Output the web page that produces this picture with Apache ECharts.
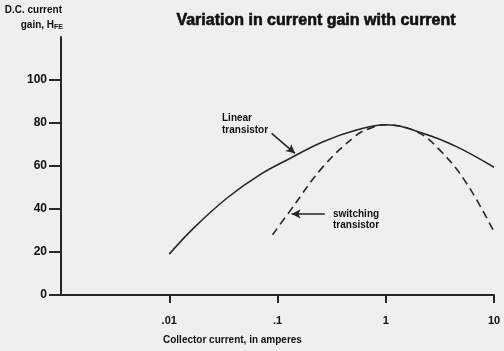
<!DOCTYPE html>
<html><head><meta charset="utf-8">
<script src="https://cdn.jsdelivr.net/npm/echarts@6/dist/echarts.min.js"></script>
<style>html,body{margin:0;padding:0;background:#efefec}#c{width:504px;height:351px}</style>
</head><body><div id="c"></div>
<script>
var xTicks = [0.01, 0.1, 1, 10];
var xTickLabels = ['.01', '.1', '1', '10'];
var yTicks = [0, 20, 40, 60, 80, 100];
var linearX = [0.01, 0.0167, 0.034, 0.069, 0.13, 0.264, 0.537, 1, 2.2, 4.5, 10];
var linearY = [19, 31, 45, 56, 63.5, 71.3, 76.7, 79.2, 75.2, 69, 59.4];
var switchX = [0.09, 0.13, 0.264, 0.537, 0.713, 1, 1.92, 3.16, 5.57, 10];
var switchY = [28, 39, 59.7, 74.4, 77.5, 79.2, 76, 67.4, 52, 29.4];
var linearArrow = [[0.0883, 75.2], [0.145, 65.9]];
var switchArrow = [[0.274, 37.7], [0.135, 37.7]];

function pairs(xs, ys) { return xs.map(function (x, i) { return [x, ys[i]]; }); }

var ink = '#262626';
var chart = echarts.init(document.getElementById('c'));
chart.setOption({
  backgroundColor: '#efefec',
  animation: false,
  title: {
    text: 'Variation in current gain with current',
    left: 311, top: 8, textAlign: 'center',
    textStyle: { fontFamily: 'Liberation Sans', fontWeight: 'bold', fontSize: 16, color: '#111', textBorderColor: '#111', textBorderWidth: 0.6 }
  },
  grid: { left: 61, right: 10, top: 37, bottom: 56 },
  xAxis: {
    type: 'log', logBase: 10, min: 0.001, max: 10,
    axisLine: { lineStyle: { color: ink, width: 2 } },
    axisTick: { show: true, length: 8, lineStyle: { color: ink, width: 2 }, customValues: xTicks },
    axisLabel: {
      customValues: xTicks, margin: 20,
      formatter: function (v) { var i = xTicks.findIndex(function (t) { return Math.abs(t - v) / t < 1e-6; }); return i >= 0 ? xTickLabels[i] : ''; },
      fontFamily: 'Liberation Sans', fontWeight: 'bold', fontSize: 11, color: '#111'
    },
    splitLine: { show: false }, minorTick: { show: false }
  },
  yAxis: {
    type: 'value', min: 0, max: 120, interval: 20,
    axisLine: { show: true, lineStyle: { color: ink, width: 2 } },
    axisTick: { show: true, length: 12, lineStyle: { color: ink, width: 2 }, customValues: yTicks },
    axisLabel: { customValues: yTicks, margin: 14, fontFamily: 'Liberation Sans', fontWeight: 'bold', fontSize: 12, color: '#111' },
    splitLine: { show: false }
  },
  series: [
    {
      name: 'Linear transistor', type: 'line', smooth: 0.4, symbol: 'none',
      data: pairs(linearX, linearY),
      lineStyle: { color: ink, width: 1.6 },
      markLine: {
        silent: true, symbol: ['none', 'arrow'], symbolSize: [7, 9],
        lineStyle: { color: ink, width: 1.6, type: 'solid' }, label: { show: false },
        data: [[{ coord: linearArrow[0] }, { coord: linearArrow[1] }]]
      }
    },
    {
      name: 'switching transistor', type: 'line', smooth: 0.4, symbol: 'none',
      data: pairs(switchX, switchY),
      lineStyle: { color: ink, width: 1.6, type: [8, 5] },
      markLine: {
        silent: true, symbol: ['none', 'arrow'], symbolSize: [7, 9],
        lineStyle: { color: ink, width: 1.6, type: 'solid' }, label: { show: false },
        data: [[{ coord: switchArrow[0] }, { coord: switchArrow[1] }]]
      }
    }
  ],
  graphic: [
    { type: 'text', right: 504 - 62, top: 5, style: { text: 'D.C. current', align: 'right', font: 'bold 10px "Liberation Sans"', fill: '#111' } },
    { type: 'text', right: 504 - 63, top: 20, style: {
        text: 'gain, H{s|FE}', align: 'right', font: 'bold 10px "Liberation Sans"', fill: '#111',
        rich: { s: { fontSize: 7, fontWeight: 'bold', fontFamily: 'Liberation Sans', verticalAlign: 'bottom', padding: [4, 0, 0, 0], fill: '#111' } }
    } },
    { type: 'text', left: 163, top: 335, style: { text: 'Collector current, in amperes', font: 'bold 10px "Liberation Sans"', fill: '#111' } },
    { type: 'text', left: 222, top: 112, style: { text: 'Linear\ntransistor', font: 'bold 10px "Liberation Sans"', lineHeight: 12, fill: '#111' } },
    { type: 'text', left: 333, top: 209, style: { text: 'switching\ntransistor', font: 'bold 10px "Liberation Sans"', lineHeight: 11, fill: '#111' } }
  ]
});
</script></body></html>
